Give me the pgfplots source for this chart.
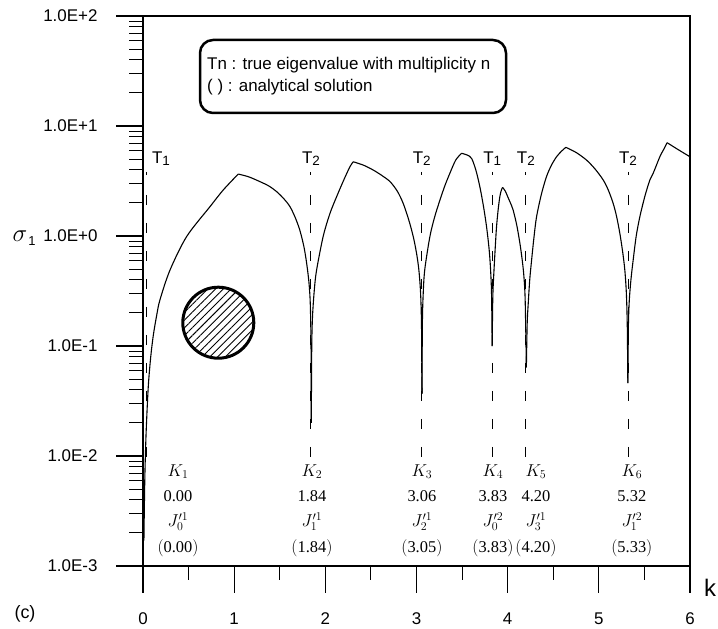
\documentclass[border=0pt]{standalone}
\usepackage{pgfplots}
\pgfplotsset{compat=1.18}
\usepackage{fontspec}
\setmainfont{Liberation Sans}
\newfontfamily\tnr{Liberation Serif}
\usetikzlibrary{patterns.meta}

\newcommand\tlab[1]{T{\fontsize{13.5}{13.5}\selectfont\raisebox{-1.2bp}{#1}}}
% one column of annotations under a dip
\newcommand\kcol[5]{%
  \node[font=\fontsize{16.5}{16.5}\selectfont] at (axis cs:#1,0.0072) {$K_{#2}$};
  \node[font=\tnr\fontsize{16.5}{16.5}\selectfont] at (axis cs:#1,0.00433) {#3};
  \node[font=\fontsize{16.5}{16.5}\selectfont] at (axis cs:#1,0.00253) {$#4$};
  \node[font=\fontsize{16.5}{16.5}\selectfont] at (axis cs:#1,0.00145) {$\bigl(\mbox{\tnr #5}\bigr)$};
}

\begin{document}
\begin{tikzpicture}[x=1bp,y=1bp]
\useasboundingbox (0,0) rectangle (718,-629);
\begin{axis}[
  at={(143bp,-566bp)}, anchor=south west,
  scale only axis, width=547bp, height=550bp,
  xmin=0, xmax=6, ymin=1e-3, ymax=1e2, ymode=log,
  axis line style={line width=1.3bp},
  tick align=outside, xtick pos=bottom, ytick pos=left,
  xtick={0,1,2,3,4,5,6}, xticklabels={0,1,2,3,4,5,6}, minor x tick num=1,
  ytick={1e-3,1e-2,1e-1,1,10,100},
  yticklabels={1.0E-3,1.0E-2,1.0E-1,1.0E+0,1.0E+1,1.0E+2},
  minor ytick={2e-3,3e-3,4e-3,5e-3,6e-3,7e-3,8e-3,9e-3,
               2e-2,3e-2,4e-2,5e-2,6e-2,7e-2,8e-2,9e-2,
               2e-1,3e-1,4e-1,5e-1,6e-1,7e-1,8e-1,9e-1,
               2,3,4,5,6,7,8,9,20,30,40,50,60,70,80,90},
  major tick length=27bp, minor tick length=14bp,
  every major tick/.style={line width=1.2bp, black},
  every minor tick/.style={line width=1bp, black},
  tick label style={font=\fontsize{17}{19}\selectfont},
  yticklabel style={xshift=-15bp},
  xticklabel style={yshift=-16bp},
  clip=false,
  arc/.style={black, no markers, line width=1.1bp, smooth, tension=0.5},
  mark line/.style={black, no markers, line width=1bp, sharp plot},
]
% sigma_1 curve, one smooth arc between each cusp and corner
\addplot[arc] coordinates {(0.010,0.0017) (0.015,0.0035) (0.022,0.0075) (0.035,0.017)
  (0.058,0.043) (0.085,0.080) (0.113,0.125) (0.150,0.19) (0.186,0.263)
  (0.296,0.49) (0.479,0.99) (0.735,1.85) (0.880,2.62) (1.045,3.66)};
\addplot[arc] coordinates {(1.045,3.66) (1.160,3.45) (1.283,3.12) (1.380,2.85)
  (1.466,2.53) (1.545,2.18) (1.612,1.85) (1.670,1.47) (1.720,1.13)
  (1.765,0.80) (1.795,0.565) (1.820,0.38) (1.835,0.24) (1.843,0.10) (1.846,0.020)};
\addplot[arc] coordinates {(1.846,0.020) (1.851,0.10) (1.860,0.19) (1.880,0.33)
  (1.904,0.49) (1.976,0.99) (2.050,1.60) (2.124,2.28) (2.200,3.20) (2.270,4.27) (2.306,4.73)};
\addplot[arc] coordinates {(2.306,4.73) (2.420,4.40) (2.525,3.98) (2.620,3.55)
  (2.710,3.12) (2.790,2.55) (2.854,1.98) (2.915,1.40) (2.964,0.99)
  (3.000,0.70) (3.026,0.49) (3.045,0.30) (3.055,0.15) (3.060,0.037)};
\addplot[arc] coordinates {(3.060,0.037) (3.064,0.15) (3.072,0.28) (3.090,0.49)
  (3.147,0.99) (3.200,1.50) (3.257,2.12) (3.310,2.85) (3.366,3.72)
  (3.430,4.90) (3.494,5.65)};
\addplot[arc] coordinates {(3.494,5.65) (3.555,5.45) (3.604,5.08) (3.650,4.00)
  (3.695,2.80) (3.735,1.85) (3.768,1.22) (3.795,0.78) (3.811,0.52)
  (3.823,0.30) (3.830,0.10)};
\addplot[arc] coordinates {(3.830,0.10) (3.837,0.28) (3.850,0.49) (3.865,0.82)
  (3.878,1.22) (3.896,1.75) (3.914,2.28) (3.930,2.60) (3.944,2.77)};
\addplot[arc] coordinates {(3.944,2.77) (3.975,2.55) (4.000,2.28) (4.030,2.00)
  (4.060,1.72) (4.100,1.25) (4.134,0.86) (4.160,0.60) (4.178,0.43)
  (4.192,0.26) (4.205,0.064)};
\addplot[arc] coordinates {(4.205,0.064) (4.214,0.16) (4.225,0.24) (4.242,0.40)
  (4.262,0.60) (4.290,1.00) (4.317,1.50) (4.370,2.40) (4.426,3.47)
  (4.480,4.40) (4.536,5.25) (4.590,5.90) (4.638,6.40)};
\addplot[arc] coordinates {(4.638,6.40) (4.750,5.75) (4.865,4.90) (4.960,4.05)
  (5.047,3.24) (5.105,2.60) (5.157,1.98) (5.195,1.50) (5.230,1.06)
  (5.260,0.73) (5.285,0.49) (5.302,0.30) (5.312,0.15) (5.318,0.046)};
\addplot[arc] coordinates {(5.318,0.046) (5.324,0.15) (5.334,0.26) (5.352,0.40)
  (5.376,0.60) (5.410,1.00) (5.450,1.50) (5.505,2.30) (5.560,3.24)
  (5.596,3.72) (5.669,5.25) (5.710,6.10) (5.749,7.05)};
\addplot[arc] coordinates {(5.749,7.05) (5.870,6.10) (6.000,5.25)};
% dashed markers of the true eigenvalues
\pgfplotsinvokeforeach{0.033,1.842,3.058,3.830,4.200,5.320}{
  \addplot[mark line, dash pattern=on 10bp off 18bp]
    coordinates {(#1,2.36) (#1,0.0098)};
  \addplot[mark line] coordinates {(#1,3.82) (#1,3.62)};
}
% T labels
\node[font=\fontsize{17}{17}\selectfont] at (axis cs:0.197,5.05) {\tlab{1}};
\node[font=\fontsize{17}{17}\selectfont] at (axis cs:1.842,5.05) {\tlab{2}};
\node[font=\fontsize{17}{17}\selectfont] at (axis cs:3.058,5.05) {\tlab{2}};
\node[font=\fontsize{17}{17}\selectfont] at (axis cs:3.830,5.05) {\tlab{1}};
\node[font=\fontsize{17}{17}\selectfont] at (axis cs:4.200,5.05) {\tlab{2}};
\node[font=\fontsize{17}{17}\selectfont] at (axis cs:5.320,5.05) {\tlab{2}};
% annotation columns
\kcol{0.384}{1}{0.00}{J_{0}^{\prime 1}}{0.00}
\kcol{1.853}{2}{1.84}{J_{1}^{\prime 1}}{1.84}
\kcol{3.059}{3}{3.06}{J_{2}^{\prime 1}}{3.05}
\kcol{3.838}{4}{3.83}{J_{0}^{\prime 2}}{3.83}
\kcol{4.310}{5}{4.20}{J_{3}^{\prime 1}}{4.20}
\kcol{5.362}{6}{5.32}{J_{1}^{\prime 2}}{5.33}
\end{axis}
% legend box
\draw[line width=2.5bp, rounded corners=13bp] (200,-40) rectangle (506,-113);
\node[anchor=west, font=\fontsize{17}{17}\selectfont, inner sep=0] at (207,-65) {Tn : true eigenvalue with multiplicity n};
\node[anchor=west, font=\fontsize{17}{17}\selectfont, inner sep=0] at (207,-87) {( ) : analytical solution};
% hatched circle
\draw[line width=3bp, pattern={Lines[angle=45,distance=5.5bp,line width=0.9bp]}] (218.3,-322.7) circle (35.5);
% labels
\node at (20,-236) {\fontsize{30}{30}\selectfont$\sigma$};
\node[font=\fontsize{13}{13}\selectfont] at (32,-241) {1};
\node[font=\fontsize{24}{24}\selectfont] at (710,-588) {k};
\node[font=\fontsize{18}{18}\selectfont] at (25,-614) {(c)};
\end{tikzpicture}
\end{document}
